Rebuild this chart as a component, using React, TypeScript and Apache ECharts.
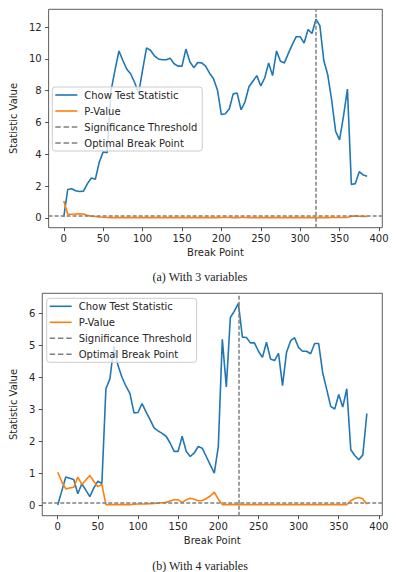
import React, { useEffect, useRef } from "react";
import * as echarts from "echarts";

// Break points (0, 5, ..., 385)
const breakPoints: number[] = [
  0, 5, 10, 15, 20, 25, 30, 35, 40, 45, 50, 55, 60, 65, 70, 75, 80, 85, 90, 95,
  100, 105, 110, 115, 120, 125, 130, 135, 140, 145, 150, 155, 160, 165, 170, 175, 180, 185, 190, 195,
  200, 205, 210, 215, 220, 225, 230, 235, 240, 245, 250, 255, 260, 265, 270, 275, 280, 285, 290, 295,
  300, 305, 310, 315, 320, 325, 330, 335, 340, 345, 350, 355, 360, 365, 370, 375, 380, 385,
];

// (a) With 3 variables
const chowStat3: number[] = [
  0.05, 1.78, 1.83, 1.7, 1.65, 1.68, 2.15, 2.5, 2.42, 3.5, 4.15, 4.1, 8.0, 9.3, 10.5, 9.9, 9.35, 9.05, 8.5, 7.85,
  9.3, 10.7, 10.55, 10.2, 10.0, 9.95, 9.95, 10.05, 9.7, 9.55, 9.55, 10.62, 9.82, 9.45, 9.78, 9.75, 9.55, 9.1, 8.75, 8.05,
  6.5, 6.55, 6.85, 7.8, 7.85, 6.8, 7.3, 8.25, 8.6, 8.95, 8.3, 8.8, 9.75, 8.95, 10.5, 9.85, 9.75, 10.35, 10.9, 11.4,
  11.4, 11.0, 11.85, 11.6, 12.5, 12.1, 9.9, 9.0, 7.4, 5.45, 4.9, 6.4, 8.1, 2.1, 2.15, 2.9, 2.7, 2.62,
];
const pValue3: number[] = [
  1.05, 0.22, 0.22, 0.24, 0.25, 0.24, 0.15, 0.1, 0.08, 0.05, 0.03, 0.02, 0.01, 0.01, 0.01, 0.01, 0.01, 0.01, 0.01, 0.02,
  0.01, 0.01, 0.01, 0.01, 0.01, 0.01, 0.01, 0.01, 0.01, 0.01, 0.01, 0.01, 0.01, 0.01, 0.01, 0.01, 0.01, 0.01, 0.01, 0.01,
  0.02, 0.02, 0.02, 0.01, 0.01, 0.02, 0.02, 0.01, 0.01, 0.01, 0.01, 0.01, 0.01, 0.01, 0.01, 0.01, 0.01, 0.01, 0.01, 0.01,
  0.01, 0.01, 0.01, 0.01, 0.01, 0.01, 0.01, 0.01, 0.02, 0.02, 0.02, 0.02, 0.02, 0.1, 0.12, 0.1, 0.08, 0.09,
];
const threshold3 = 0.1;
const optimalBreak3 = 320;

// (b) With 4 variables
const chowStat4: number[] = [
  0.02, 0.45, 0.89, 0.85, 0.81, 0.37, 0.68, 0.48, 0.28, 0.55, 0.76, 0.69, 3.64, 3.95, 4.97, 4.37, 4.0, 3.72, 3.49, 2.89,
  2.9, 3.18, 2.92, 2.68, 2.42, 2.33, 2.25, 2.16, 1.95, 1.69, 1.69, 2.16, 1.69, 1.53, 1.64, 1.84, 1.79, 1.53, 1.27, 1.01,
  1.84, 5.18, 3.7, 5.86, 6.06, 6.3, 5.25, 5.24, 5.07, 5.07, 4.81, 4.62, 5.09, 4.57, 4.52, 4.74, 3.74, 4.78, 5.13, 5.23,
  4.92, 4.81, 4.81, 4.73, 5.05, 5.05, 4.14, 3.62, 3.09, 3.01, 3.46, 3.07, 3.64, 1.74, 1.56, 1.43, 1.58, 2.87,
];
const pValue4: number[] = [
  1.04, 0.75, 0.52, 0.55, 0.57, 0.89, 0.66, 0.8, 0.94, 0.75, 0.59, 0.66, 0.03, 0.03, 0.03, 0.03, 0.03, 0.03, 0.03, 0.04,
  0.05, 0.05, 0.05, 0.06, 0.07, 0.08, 0.09, 0.1, 0.14, 0.18, 0.18, 0.1, 0.18, 0.23, 0.2, 0.15, 0.16, 0.22, 0.3, 0.42,
  0.2, 0.03, 0.03, 0.03, 0.03, 0.03, 0.03, 0.03, 0.03, 0.03, 0.03, 0.03, 0.03, 0.03, 0.03, 0.03, 0.03, 0.03, 0.03, 0.03,
  0.03, 0.03, 0.03, 0.03, 0.03, 0.03, 0.03, 0.03, 0.03, 0.03, 0.03, 0.03, 0.03, 0.15, 0.22, 0.25, 0.21, 0.04,
];
const threshold4 = 0.1;
const optimalBreak4 = 225;

const xTicks: number[] = [0, 50, 100, 150, 200, 250, 300, 350, 400];
const yTicks3: number[] = [0, 2, 4, 6, 8, 10, 12];
const yTicks4: number[] = [0, 1, 2, 3, 4, 5, 6];

const seriesNames = ["Chow Test Statistic", "P-Value", "Significance Threshold", "Optimal Break Point"];
const captions = ["(a) With 3 variables", "(b) With 4 variables"];

const BLUE = "#1f77b4";
const ORANGE = "#ff7f0e";
const GRAY = "#808080";
const INK = "#262626";
const FONT = "DejaVu Sans";

const SOLID_ICON = "path://M0,0h22v1.6h-22z";
const DASH_ICON = "path://M0,0h5.5v1.6h-5.5z M8.25,0h5.5v1.6h-5.5z M16.5,0h5.5v1.6h-5.5z";

function pairs(xs: number[], ys: number[]) {
  return xs.map((x, i) => [x, ys[i]]);
}

function padRange(lo: number, hi: number) {
  const m = (hi - lo) * 0.05;
  return [lo - m, hi + m];
}

export default function App() {
  const ref = useRef<HTMLDivElement>(null);
  useEffect(() => {
    if (!ref.current) return;
    const chart = echarts.init(ref.current, null, { renderer: "svg" });

    const xr = padRange(Math.min(...breakPoints), Math.max(...breakPoints));
    const y3 = padRange(Math.min(...chowStat3, ...pValue3, 0), Math.max(...chowStat3, ...pValue3));
    const y4 = padRange(Math.min(...chowStat4, ...pValue4, 0), Math.max(...chowStat4, ...pValue4));

    const mkX = (gridIndex: number) => ({
      type: "value",
      gridIndex,
      min: xr[0],
      max: xr[1],
      name: "Break Point",
      nameLocation: "middle",
      nameGap: 20,
      nameTextStyle: { fontFamily: FONT, fontSize: 10, color: INK },
      axisLine: { show: false, onZero: false },
      splitLine: { show: false },
      axisTick: { show: true, length: 3.5, customValues: xTicks, lineStyle: { color: INK, width: 0.8 } },
      axisLabel: { customValues: xTicks, margin: 6, fontFamily: FONT, fontSize: 10, color: INK },
    });
    const mkY = (gridIndex: number, r: number[], ticks: number[], gap: number) => ({
      type: "value",
      gridIndex,
      min: r[0],
      max: r[1],
      name: "Statistic Value",
      nameLocation: "middle",
      nameGap: gap,
      nameTextStyle: { fontFamily: FONT, fontSize: 10, color: INK },
      axisLine: { show: false, onZero: false },
      splitLine: { show: false },
      axisTick: { show: true, length: 3.5, customValues: ticks, lineStyle: { color: INK, width: 0.8 } },
      axisLabel: { customValues: ticks, margin: 7, fontFamily: FONT, fontSize: 10, color: INK },
    });

    const mkSeries = (idx: number, stat: number[], pv: number[], thr: number, brk: number) => [
      {
        name: seriesNames[0],
        type: "line",
        xAxisIndex: idx,
        yAxisIndex: idx,
        data: pairs(breakPoints, stat),
        symbol: "none",
        color: BLUE,
        lineStyle: { color: BLUE, width: 1.6 },
        z: 2,
      },
      {
        name: seriesNames[1],
        type: "line",
        xAxisIndex: idx,
        yAxisIndex: idx,
        data: pairs(breakPoints, pv),
        symbol: "none",
        color: ORANGE,
        lineStyle: { color: ORANGE, width: 1.6 },
        z: 3,
      },
      {
        name: seriesNames[2],
        type: "line",
        xAxisIndex: idx,
        yAxisIndex: idx,
        data: [],
        symbol: "none",
        color: GRAY,
        lineStyle: { color: GRAY, width: 1.5, type: [4, 2] },
        z: 4,
        markLine: {
          silent: true,
          symbol: "none",
          label: { show: false },
          lineStyle: { color: GRAY, width: 1.5, type: [4, 2] },
          data: [{ yAxis: thr }],
        },
      },
      {
        name: seriesNames[3],
        type: "line",
        xAxisIndex: idx,
        yAxisIndex: idx,
        data: [],
        symbol: "none",
        color: GRAY,
        lineStyle: { color: GRAY, width: 1.5, type: [4, 2] },
        z: 5,
        markLine: {
          silent: true,
          symbol: "none",
          label: { show: false },
          lineStyle: { color: GRAY, width: 1.5, type: [4, 2] },
          data: [{ xAxis: brk }],
        },
      },
    ];

    const mkLegend = (left: number, top: number) => ({
      orient: "vertical",
      left,
      top,
      data: [
        { name: seriesNames[0], icon: SOLID_ICON },
        { name: seriesNames[1], icon: SOLID_ICON },
        { name: seriesNames[2], icon: DASH_ICON },
        { name: seriesNames[3], icon: DASH_ICON },
      ],
      itemWidth: 22,
      itemHeight: 12,
      itemGap: 6,
      padding: [3, 5, 3, 3],
      backgroundColor: "rgba(255,255,255,0.8)",
      borderColor: "#cccccc",
      borderWidth: 1,
      borderRadius: 3,
      selectedMode: false,
      itemStyle: { borderWidth: 0 },
      textStyle: { fontFamily: FONT, fontSize: 10, color: INK, padding: [0, 0, 0, 2] },
    });

    chart.setOption({
      animation: false,
      backgroundColor: "#ffffff",
      grid: [
        { left: 47.3, top: 9.3, width: 335, height: 218.4, show: true, borderColor: "#333", borderWidth: 0.8, backgroundColor: "transparent", containLabel: false },
        { left: 41.7, top: 293.3, width: 340.6, height: 222.4, show: true, borderColor: "#333", borderWidth: 0.8, backgroundColor: "transparent", containLabel: false },
      ],
      xAxis: [mkX(0), mkX(1)],
      yAxis: [mkY(0, y3, yTicks3, 26), mkY(1, y4, yTicks4, 20)],
      legend: [mkLegend(52.3, 87), mkLegend(46.7, 298.3)],
      series: [
        ...mkSeries(0, chowStat3, pValue3, threshold3, optimalBreak3),
        ...mkSeries(1, chowStat4, pValue4, threshold4, optimalBreak4),
      ],
      graphic: [
        {
          type: "text",
          x: 200,
          y: 277,
          style: { text: captions[0], align: "center", verticalAlign: "middle", fontFamily: "Liberation Serif", fontSize: 12, fill: "#222" },
        },
        {
          type: "text",
          x: 200,
          y: 566,
          style: { text: captions[1], align: "center", verticalAlign: "middle", fontFamily: "Liberation Serif", fontSize: 12, fill: "#222" },
        },
      ],
    });
    return () => chart.dispose();
  }, []);

  return (
    <div
      ref={ref}
      style={{ position: "fixed", left: 0, top: 0, width: 396, height: 572, background: "#fff" }}
    />
  );
}
